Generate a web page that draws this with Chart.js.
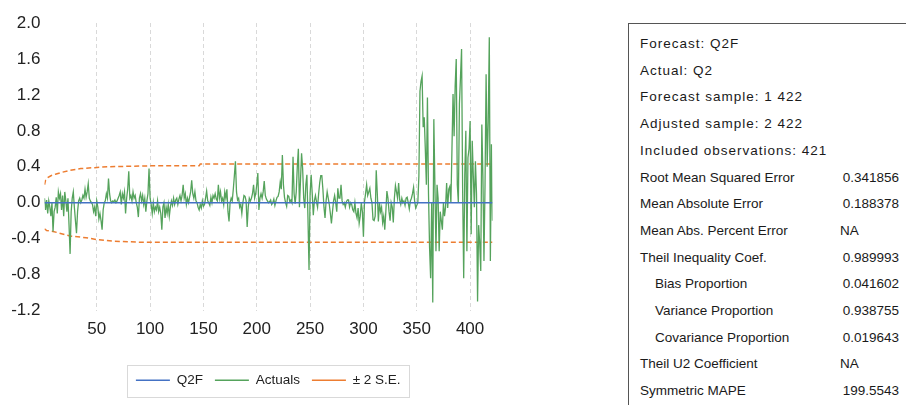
<!DOCTYPE html>
<html>
<head>
<meta charset="utf-8">
<script src="https://cdn.jsdelivr.net/npm/chart.js@4.4.1/dist/chart.umd.min.js"></script>
<style>
  html, body { margin:0; padding:0; background:#fff; width:906px; height:405px; overflow:hidden; }
  #wrap { position:absolute; left:0; top:0; width:536px; height:405px; }
  #stats { position:absolute; left:628px; top:23px; width:300px; height:400px;
           border-left:1.5px solid #555; border-top:1.5px solid #555;
           font-family:"Liberation Sans", Arial, sans-serif; font-size:13.5px; color:#1a1a1a; }
  .row { position:absolute; left:0; width:278px; height:20px; line-height:20px; white-space:nowrap; }
  .lab { position:absolute; left:11px; }
  .lab.ind { left:26px; }
  .lab.sp { letter-spacing:1px; }
  .num { position:absolute; right:8px; }
  .na { position:absolute; left:211px; }
</style>
</head>
<body>
<div id="wrap"><canvas id="c"></canvas></div>
<div id="stats"></div>
<script>
// ---- data ----
const actuals = [
 0.05,-0.08,0.03,-0.12,0.02,-0.05,-0.15,0.0,-0.32,-0.1,
 -0.05,0.06,-0.12,0.12,0.05,0.1,-0.08,0.08,-0.15,0.12,
 0.02,-0.1,0.05,-0.25,-0.57,-0.1,0.05,0.12,-0.05,-0.2,
 -0.34,-0.1,0.02,0.05,0.0,0.03,0.08,0.05,0.15,0.06,
 0.12,0.21,0.05,0.02,0.0,-0.02,-0.1,-0.05,-0.15,0.02,
 -0.05,-0.18,-0.12,-0.2,-0.3,-0.08,0.0,0.02,0.1,0.05,
 0.27,0.1,0.02,0.0,0.02,0.01,0.03,0.0,0.02,0.05,
 0.08,0.12,-0.02,0.1,0.05,0.12,-0.12,0.05,0.15,0.35,
 0.05,0.08,0.02,0.12,0.05,0.08,0.0,-0.05,-0.16,0.05,
 0.1,0.02,0.08,-0.02,0.05,-0.1,0.02,0.1,0.38,0.05,
 -0.02,-0.12,0.0,-0.1,-0.05,-0.08,0.02,-0.1,-0.05,-0.12,
 -0.3,-0.05,0.0,-0.17,-0.05,-0.12,-0.02,-0.15,-0.05,0.02,
 -0.03,0.05,-0.02,0.03,0.05,-0.02,0.04,0.08,0.02,0.08,
 0.2,0.05,0.1,-0.02,0.05,0.0,0.06,0.12,0.25,0.1,
 0.05,0.12,0.02,0.0,-0.05,-0.08,-0.02,-0.06,0.02,-0.04,
 -0.02,0.05,0.13,0.02,0.0,-0.03,0.06,0.0,0.08,0.05,
 0.1,0.04,0.02,0.2,0.05,0.12,0.02,0.05,-0.02,0.12,
 0.05,0.15,-0.1,-0.21,0.0,0.05,0.02,0.15,0.3,0.46,
 0.12,0.03,0.05,-0.05,-0.02,-0.12,0.0,0.08,0.07,0.02,
 -0.27,-0.05,0.05,0.02,0.05,0.1,0.2,0.05,0.1,0.2,
 0.33,-0.08,0.05,0.1,0.05,0.12,0.24,0.08,0.04,0.02,
 0.0,0.01,0.03,-0.02,0.0,0.04,-0.03,0.02,0.06,0.07,
 0.12,0.23,0.15,0.53,0.2,0.06,0.0,-0.04,0.08,0.07,
 0.01,0.03,0.0,0.51,0.1,-0.01,0.12,0.4,0.6,-0.05,
 0.25,0.55,0.38,0.05,-0.06,0.2,0.31,-0.17,-0.75,0.1,
 0.31,0.1,-0.14,0.02,0.08,0.01,-0.05,0.1,0.22,0.3,
 0.3,0.15,-0.05,-0.17,0.02,0.12,0.05,-0.02,-0.12,-0.23,
 -0.1,0.02,0.08,0.0,-0.1,0.16,0.05,0.05,0.2,0.02,
 -0.02,0.0,-0.05,0.01,0.03,0.03,-0.05,0.0,-0.02,-0.08,
 -0.1,0.0,-0.12,-0.17,-0.06,-0.23,-0.15,0.0,-0.1,-0.38,
 0.01,0.1,0.2,0.08,0.12,0.16,0.05,0.0,-0.19,-0.2,
 -0.15,0.36,0.1,-0.21,0.0,-0.1,-0.05,-0.22,-0.15,-0.3,
 -0.1,0.13,0.05,-0.1,-0.2,0.0,-0.05,-0.22,0.05,0.19,
 0.12,0.05,0.22,0.03,-0.02,0.05,0.0,0.02,-0.03,0.05,
 0.06,0.0,-0.07,0.02,0.05,0.1,0.17,0.02,-0.06,-0.03,
 0.0,0.3,1.24,1.35,1.41,0.84,0.95,0.6,0.2,1.17,
 0.1,-0.5,-0.84,0.0,-1.11,0.93,0.2,-0.54,0.2,0.05,
 -0.54,-0.1,-0.2,-0.3,0.0,-0.15,-0.05,0.22,-0.06,0.15,
 0.18,0.0,0.6,1.21,0.74,1.3,1.6,0.2,0.0,1.1,
 1.4,1.71,0.15,-0.84,0.3,0.8,-0.54,0.5,0.6,0.91,
 -0.35,0.69,0.3,-0.05,0.46,0.1,-1.1,-0.25,-0.45,-0.76,
 0.87,0.3,-0.65,0.2,1.43,0.4,0.9,1.84,-0.65,0.65,-0.2
];
const q2fX = [1, 421];
const q2fY = [0.0, 0.0];
const upperX = [1, 2, 4, 7, 12, 18, 25, 35, 48, 60, 100, 146, 147, 421];
const upperY = [0.20, 0.25, 0.28, 0.30, 0.32, 0.34, 0.36, 0.38, 0.39, 0.40, 0.41, 0.41, 0.43, 0.43];
const lowerX = [1, 3, 9, 25, 40, 50, 66, 92, 421];
const lowerY = [-0.29, -0.31, -0.32, -0.37, -0.39, -0.41, -0.43, -0.44, -0.44];
const xTicks = [50, 100, 150, 200, 250, 300, 350, 400];
const yTicks = [-1.2, -0.8, -0.4, 0.0, 0.4, 0.8, 1.2, 1.6, 2.0];
const seriesNames = ['Q2F', 'Actuals', '\u00B1 2 S.E.'];

const statLabels = ['Forecast: Q2F','Actual: Q2','Forecast sample: 1 422','Adjusted sample: 2 422','Included observations: 421',
  'Root Mean Squared Error','Mean Absolute Error','Mean Abs. Percent Error','Theil Inequality Coef.',
  'Bias Proportion','Variance Proportion','Covariance Proportion','Theil U2 Coefficient','Symmetric MAPE'];
const statValues = ['','','','','','0.341856','0.188378','NA','0.989993','0.041602','0.938755','0.019643','NA','199.5543'];
const statIndent = [0,0,0,0,0,0,0,0,0,1,1,1,0,0];

// ---- stats table ----
const st = document.getElementById('stats');
statLabels.forEach((t, i) => {
  const r = document.createElement('div');
  r.className = 'row';
  r.style.top = (10 + i * 26.7) + 'px';
  const l = document.createElement('span');
  l.className = 'lab' + (statIndent[i] ? ' ind' : '') + (i < 5 ? ' sp' : '');
  l.textContent = t;
  r.appendChild(l);
  if (statValues[i]) {
    const v = document.createElement('span');
    v.className = statValues[i] === 'NA' ? 'na' : 'num';
    v.textContent = statValues[i];
    r.appendChild(v);
  }
  st.appendChild(r);
});

// ---- chart ----
const legendShift = {
  id: 'legendShift',
  afterLayout(chart) {
    if (chart.legend) { chart.legend.right += 44; }
  }
};
const legendFrame = {
  id: 'legendFrame',
  afterDraw(chart) {
    const hb = chart.legend && chart.legend.legendHitBoxes;
    if (!hb || !hb.length) return;
    const x0 = Math.min(...hb.map(b => b.left)), x1 = Math.max(...hb.map(b => b.left + b.width));
    const y0 = Math.min(...hb.map(b => b.top)), y1 = Math.max(...hb.map(b => b.top + b.height));
    const ctx = chart.ctx;
    ctx.save();
    ctx.strokeStyle = '#d9d9d9';
    ctx.lineWidth = 1;
    ctx.strokeRect(Math.round(x0 - 9) + 0.5, Math.round(y0 - 9) + 0.5, Math.round(x1 - x0 + 17), Math.round(y1 - y0 + 18));
    ctx.restore();
  }
};

const font = { family: '"Liberation Sans", Arial, sans-serif' };
new Chart(document.getElementById('c'), {
  type: 'line',
  data: {
    datasets: [
      { label: seriesNames[0], data: q2fX.map((x, i) => ({ x, y: q2fY[i] })),
        borderColor: '#4472C4', borderWidth: 1.5, pointRadius: 0 },
      { label: seriesNames[1], data: actuals.map((y, i) => ({ x: i + 1, y })),
        borderColor: '#55a35c', borderWidth: 1.3, pointRadius: 0 },
      { label: seriesNames[2], data: upperX.map((x, i) => ({ x, y: upperY[i] })),
        borderColor: '#ED7D31', borderWidth: 1.5, borderDash: [5, 3], pointRadius: 0 },
      { label: seriesNames[2] + ' lower', data: lowerX.map((x, i) => ({ x, y: lowerY[i] })),
        borderColor: '#ED7D31', borderWidth: 1.5, borderDash: [5, 3], pointRadius: 0 }
    ]
  },
  options: {
    responsive: true, maintainAspectRatio: false, animation: false,
    layout: { padding: { top: 23, right: 43.5, left: 0, bottom: 8 } },
    elements: { line: { tension: 0, fill: false } },
    plugins: {
      tooltip: { enabled: false },
      legend: {
        position: 'bottom',
        labels: {
          usePointStyle: true, pointStyle: 'line', pointStyleWidth: 34, boxHeight: 14,
          padding: 12, color: '#222', font: { ...font, size: 13.5 },
          filter: item => item.datasetIndex !== 3
        }
      }
    },
    scales: {
      x: {
        type: 'linear', min: 1, max: 421,
        afterBuildTicks: s => { s.ticks = xTicks.map(v => ({ value: v })); },
        afterFit: s => { s.height = 51; },
        grid: { display: true, drawTicks: false, color: '#d9d9d9', lineWidth: 1 },
        border: { display: false, dash: [4, 3] },
        ticks: { padding: 9, color: '#222', font: { ...font, size: 17 }, maxRotation: 0, autoSkip: false }
      },
      y: {
        min: -1.2, max: 2.0,
        afterBuildTicks: s => { s.ticks = yTicks.map(v => ({ value: v })); },
        afterFit: s => { s.width = 44.5; },
        grid: { display: false, drawTicks: false },
        border: { display: false },
        ticks: { padding: 4, color: '#222', font: { ...font, size: 17 }, callback: v => Number(v).toFixed(1) }
      }
    }
  },
  plugins: [legendShift, legendFrame]
});
</script>
</body>
</html>
